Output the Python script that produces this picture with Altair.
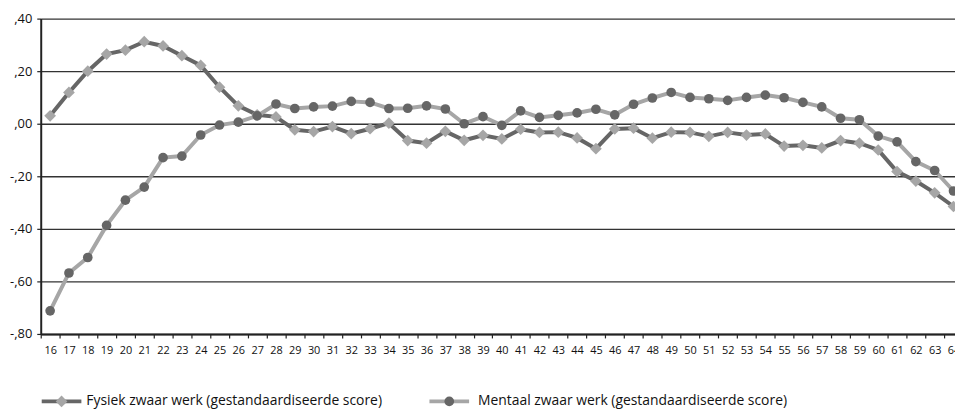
import altair as alt
import pandas as pd

ages = list(range(16, 65))
fysiek = [0.030, 0.119, 0.200, 0.265, 0.280, 0.312, 0.296, 0.259, 0.222, 0.139,
          0.068, 0.034, 0.026, -0.023, -0.030, -0.011, -0.038, -0.019, 0.002, -0.064,
          -0.074, -0.029, -0.063, -0.044, -0.058, -0.021, -0.033, -0.032, -0.054, -0.095,
          -0.020, -0.017, -0.055, -0.032, -0.033, -0.048, -0.033, -0.043, -0.039, -0.085,
          -0.082, -0.092, -0.064, -0.074, -0.100, -0.182, -0.218, -0.263, -0.315]
mentaal = [-0.712, -0.568, -0.509, -0.387, -0.291, -0.241, -0.129, -0.123, -0.043, -0.005,
           0.006, 0.030, 0.075, 0.058, 0.064, 0.067, 0.085, 0.081, 0.058, 0.059,
           0.068, 0.056, 0.000, 0.027, -0.006, 0.049, 0.024, 0.032, 0.041, 0.055,
           0.034, 0.074, 0.098, 0.119, 0.100, 0.095, 0.089, 0.100, 0.109, 0.099,
           0.081, 0.064, 0.021, 0.015, -0.047, -0.069, -0.144, -0.178, -0.256]
y_ticks = [-0.8, -0.6, -0.4, -0.2, 0.0, 0.2, 0.4]
legend_labels = ["Fysiek zwaar werk (gestandaardiseerde score)",
                 "Mentaal zwaar werk (gestandaardiseerde score)"]

DARK = "#666666"
LIGHT = "#a6a6a6"
FONT = "Open Sans"
W, H = 922, 318

df_f = pd.DataFrame({"age": ages, "value": fysiek})
df_m = pd.DataFrame({"age": ages, "value": mentaal})

xscale = alt.Scale(domain=[15.5, 64.08], nice=False, zero=False)
yscale = alt.Scale(domain=[-0.8, 0.4], nice=False, zero=False)

x_axis = alt.Axis(values=[a - 0.5 for a in ages],
                  labelExpr="format(datum.value + 0.5, 'd')",
                  labelOffset=9.5, grid=False, ticks=True, tickSize=4,
                  tickColor="#222222", tickWidth=1.2, domain=True,
                  domainColor="#222222", domainWidth=2, labelFontSize=11,
                  labelFont=FONT, labelColor="#111111", labelPadding=7,
                  title=None, labelAngle=0, labelOverlap=False, labelFlush=False)
y_axis = alt.Axis(values=y_ticks,
                  labelExpr="(datum.value < 0 ? '-' : '') + ',' + format(round(abs(datum.value) * 100), '02d')",
                  grid=True, gridColor="#333333", gridWidth=1.4, ticks=True,
                  tickSize=4, tickColor="#222222", tickWidth=1.2,
                  domainColor="#222222", domainWidth=2, labelFontSize=13,
                  labelFont=FONT, labelColor="#111111", labelPadding=5,
                  title=None, labelFlush=False)

X = alt.X("age:Q", scale=xscale, axis=x_axis)
Y = alt.Y("value:Q", scale=yscale, axis=y_axis)

fys_line = alt.Chart(df_f).mark_line(color=DARK, strokeWidth=4).encode(x=X, y=Y)
fys_pts = alt.Chart(df_f).mark_point(shape="diamond", filled=True, size=140,
                                     color=LIGHT, opacity=1).encode(x=X, y=Y)
men_line = alt.Chart(df_m).mark_line(color=LIGHT, strokeWidth=4).encode(x=X, y=Y)
men_pts = alt.Chart(df_m).mark_point(shape="circle", filled=True, size=95,
                                     color=DARK, opacity=1).encode(x=X, y=Y)

leg = alt.Data(values=[{"k": 1}])
LY = 386
leg1_line = alt.Chart(leg).mark_rule(color=DARK, strokeWidth=4).encode(
    x=alt.value(1), x2=alt.value(41), y=alt.value(LY))
leg1_sym = alt.Chart(leg).mark_point(shape="diamond", filled=True, size=140,
                                      color=LIGHT, opacity=1).encode(
    x=alt.value(21), y=alt.value(LY))
leg1_text = alt.Chart(leg).mark_text(align="left", baseline="middle", fontSize=14,
                                     font=FONT, color="#111111").encode(
    x=alt.value(46), y=alt.value(LY), text=alt.value(legend_labels[0]))
leg2_line = alt.Chart(leg).mark_rule(color=LIGHT, strokeWidth=4).encode(
    x=alt.value(392), x2=alt.value(432), y=alt.value(LY))
leg2_sym = alt.Chart(leg).mark_point(shape="circle", filled=True, size=95,
                                      color=DARK, opacity=1).encode(
    x=alt.value(412), y=alt.value(LY))
leg2_text = alt.Chart(leg).mark_text(align="left", baseline="middle", fontSize=14,
                                     font=FONT, color="#111111").encode(
    x=alt.value(441), y=alt.value(LY), text=alt.value(legend_labels[1]))

chart = alt.layer(
    fys_line, fys_pts, men_line, men_pts,
    leg1_line, leg1_sym, leg1_text, leg2_line, leg2_sym, leg2_text
).properties(
    width=W, height=H,
    padding={"left": 33, "top": 9, "right": 0, "bottom": 77},
    autosize=alt.AutoSizeParams(type="none"),
    background="white",
).configure_view(stroke=None)

chart.save("out.html", embed_options={"renderer": "svg", "actions": False})
